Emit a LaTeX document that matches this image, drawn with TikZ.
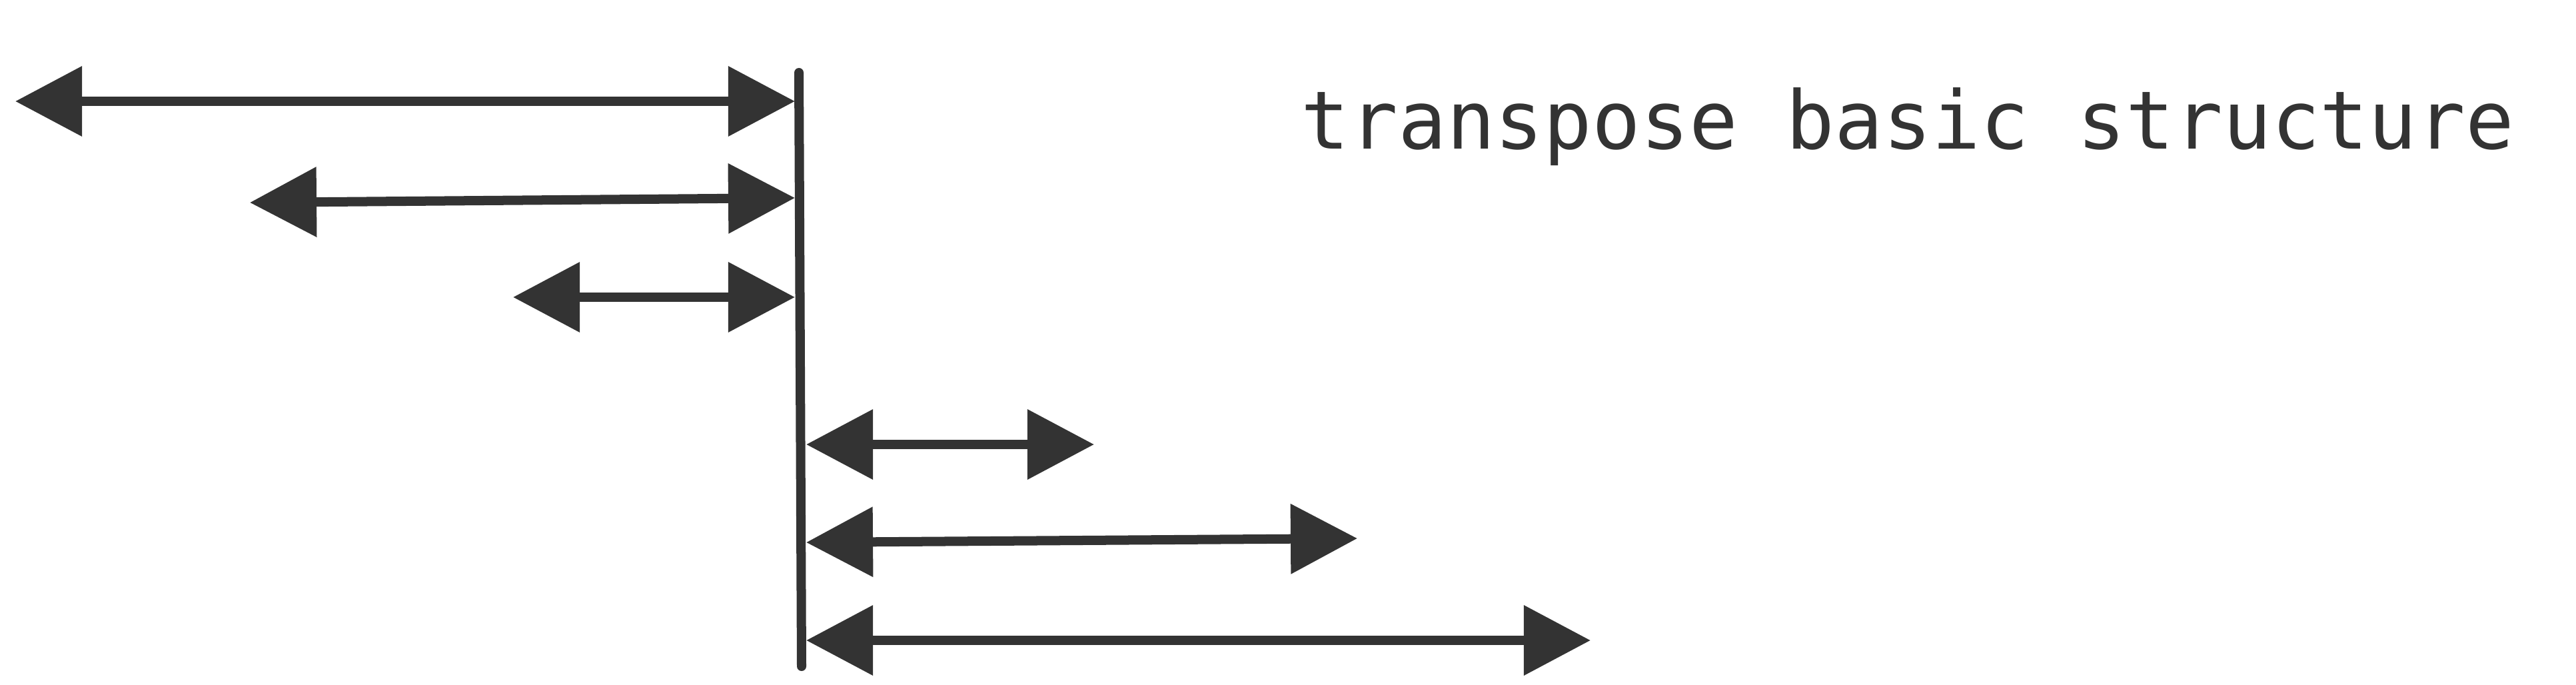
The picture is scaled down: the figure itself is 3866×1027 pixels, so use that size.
\documentclass[tikz,border=0pt]{standalone}
\usepackage{fontspec}
\newfontfamily\monofont{DejaVu Sans Mono}
\usetikzlibrary{arrows.meta}
\definecolor{ink}{HTML}{333333}

\begin{document}
\begin{tikzpicture}[
    x=0.01cm, y=-0.01cm,
    span/.style={{Triangle[length=1cm, width=1.02cm]}-{Triangle[length=1cm, width=1.02cm]}, line width=0.14cm, draw=ink},
    axis/.style={line width=0.14cm, draw=ink, line cap=round},
    title/.style={font=\monofont\fontsize{34.4}{40}\selectfont, text=ink, anchor=base, inner sep=0pt}
]
\useasboundingbox (0,0) rectangle (3866,1027);

% Central axis
\coordinate (top) at (1199,109);
\coordinate (bottom) at (1203,1000);
\draw [axis] (top) -- (bottom);

% Left spans, ending on the axis
\coordinate (west1) at (23,152);
\coordinate (east1) at (1193,152);
\coordinate (west2) at (375,304);
\coordinate (east2) at (1193,297);
\coordinate (west3) at (770,446);
\coordinate (east3) at (1193,446);

% Right spans, starting on the axis
\coordinate (west4) at (1210,667);
\coordinate (east4) at (1642,667);
\coordinate (west5) at (1210,814);
\coordinate (east5) at (2037,808);
\coordinate (west6) at (1210,961);
\coordinate (east6) at (2387,961);

% Title
\node (title) [title] at (2863,223) {transpose basic structure};

% Spans
\draw [span] (west1) -- (east1);
\draw [span] (west2) -- (east2);
\draw [span] (west3) -- (east3);
\draw [span] (west4) -- (east4);
\draw [span] (west5) -- (east5);
\draw [span] (west6) -- (east6);

\end{tikzpicture}
\end{document}
